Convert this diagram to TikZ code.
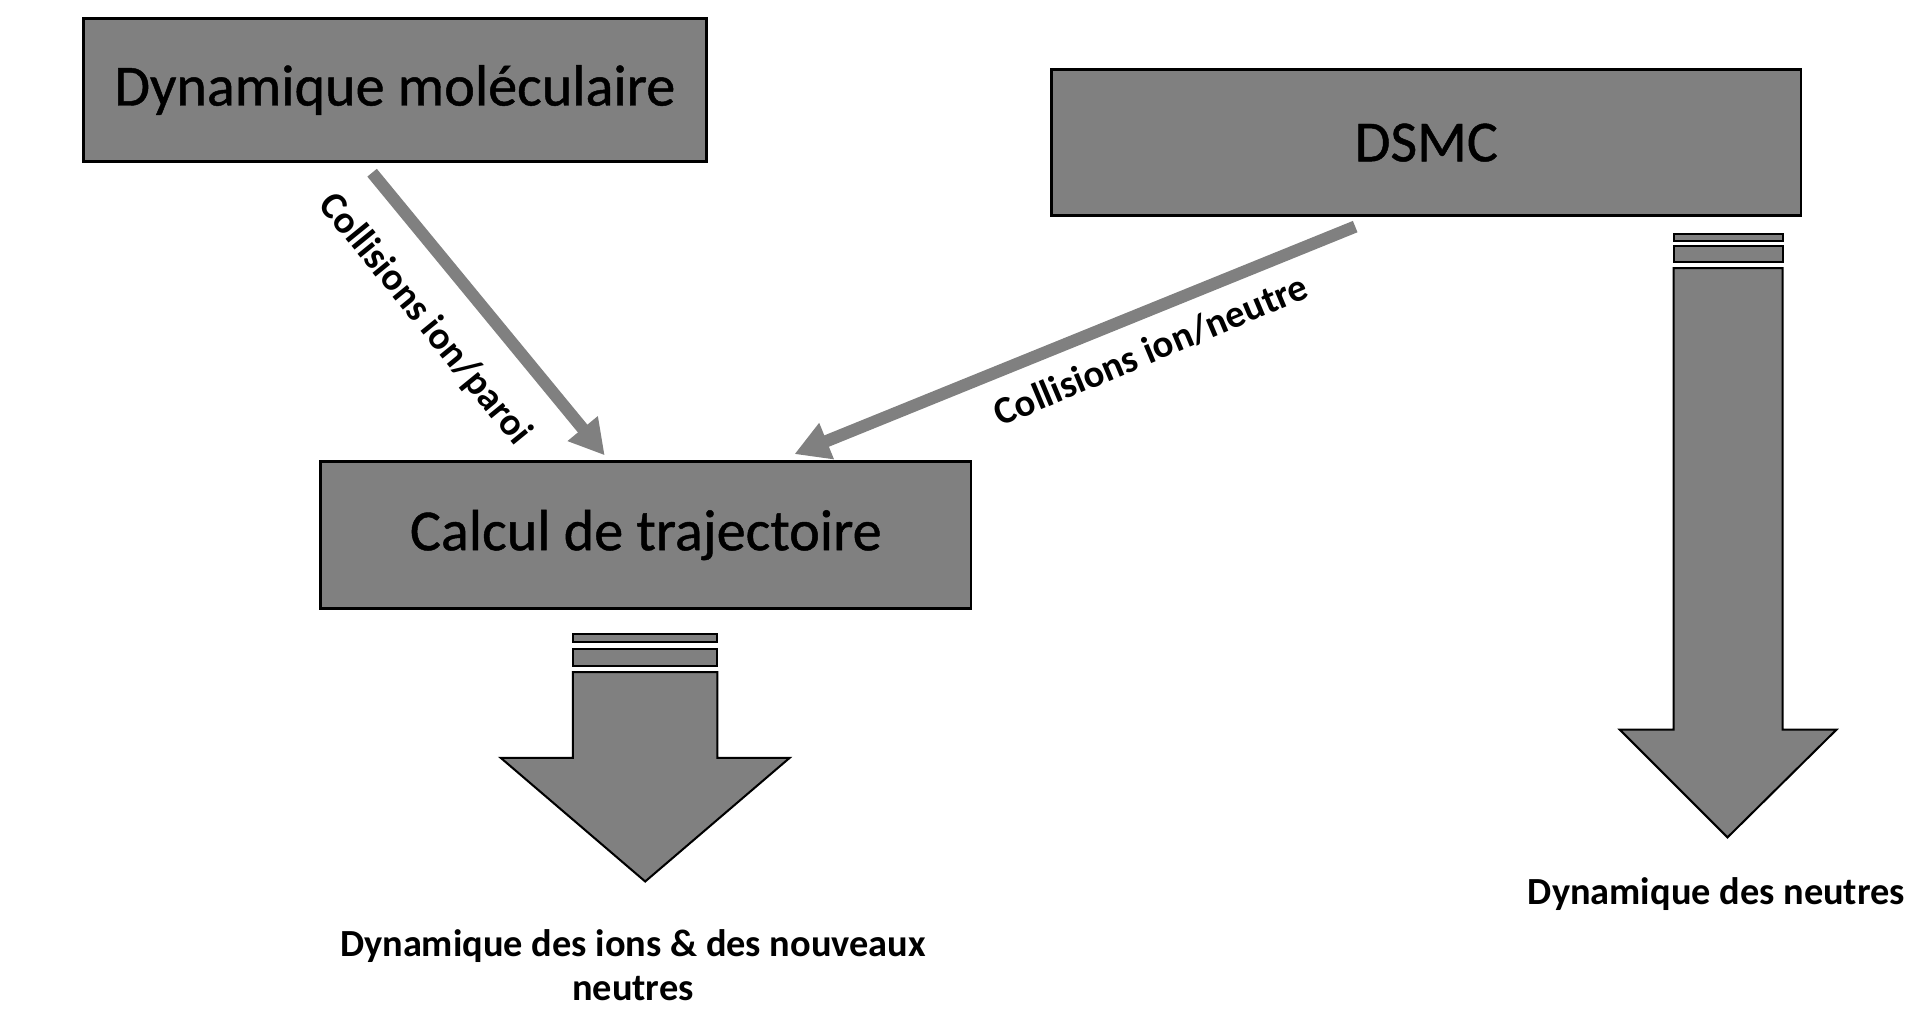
\documentclass[tikz,border=0pt]{standalone}
\usepackage{fontspec}
\setmainfont{Carlito}
\newfontfamily\boxfont{Carlito}[FakeBold=0.8]
\usetikzlibrary{arrows.meta,calc}
\definecolor{boxgray}{RGB}{128,128,128}
\tikzset{
  procbox/.style={draw=black, line width=1.3pt, fill=boxgray, inner sep=0pt, font=\boxfont\fontsize{28.5}{34}\selectfont},
  linkarrow/.style={draw=boxgray, line width=6pt, -{Triangle[length=17pt,width=18pt]}},
  blockarrow/.style={draw=black, line width=1pt, fill=boxgray, line join=miter},
  linklabel/.style={font=\bfseries\fontsize{19}{22}\selectfont, inner sep=0pt},
  outlabel/.style={font=\bfseries\fontsize{18.8}{21.6}\selectfont, align=center, inner sep=0pt}
}
\begin{document}
\begin{tikzpicture}[x=0.6pt,y=-0.6pt]
\useasboundingbox (0,0) rectangle (1565,841);
% boxes
\node[procbox, minimum width=305.4pt, minimum height=70.2pt] (A) at (322.5,73.5) {Dynamique moléculaire};
\node[procbox, minimum width=367.2pt, minimum height=71.4pt] (B) at (1165,116.5) {DSMC};
\node[procbox, minimum width=318.6pt, minimum height=72pt] (C) at (527.5,437) {Calcul de trajectoire};
% connectors
\draw[linkarrow] ($(A.south west)+(237,8)$) -- ($(C.north west)+(233,-4)$);
\draw[linkarrow] ($(B.south west)+(249,8)$) -- ($(C.north west)+(388,-5)$);
% labels
\node[linklabel, rotate=-50.8] (L1) at (347,261) {Collisions ion/paroi};
\node[linklabel, rotate=22.8] (L2) at (940,286) {Collisions ion/neutre};
% block arrow under C
\draw[blockarrow] (468,518) rectangle (586,524);
\draw[blockarrow] (468,530) rectangle (586,544);
\draw[blockarrow] (468,549) -- (586,549) -- (586,619) -- (645,619) -- (527,720) -- (409,619) -- (468,619) -- cycle;
% block arrow under DSMC
\draw[blockarrow] (1367,191) rectangle (1456,197);
\draw[blockarrow] (1367,201) rectangle (1456,214);
\draw[blockarrow] (1367,219) -- (1456,219) -- (1456,596) -- (1500,596) -- (1411,684) -- (1323,596) -- (1367,596) -- cycle;
% output labels
\node[outlabel] (O1) at (517,788) {Dynamique des ions \& des nouveaux\\neutres};
\node[outlabel] (O2) at (1402,730) {Dynamique des neutres};
\end{tikzpicture}
\end{document}
